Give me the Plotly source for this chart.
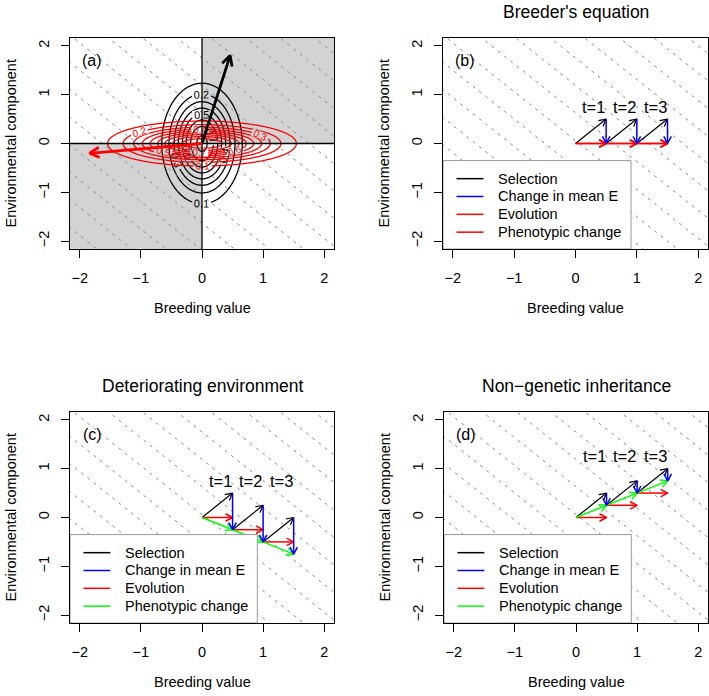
import numpy as np
import plotly.graph_objects as go

FONT = "Liberation Sans, Arial, sans-serif"
W, H = 709, 696

# ---------------- data ----------------
ticks = [-2, -1, 0, 1, 2]
axis_range = [-2.16, 2.16]
titles = ["", "Breeder's equation", "Deteriorating environment", "Non\u2212genetic inheritance"]
panel_tags = ["(a)", "(b)", "(c)", "(d)"]
time_labels = ["t=1", "t=2", "t=3"]
time_label_x = [0.3, 0.8, 1.3]
time_label_y = {"b": 0.75, "c": 0.75, "d": 1.25}

# isocline (dashed) lines: E = intercept + slope * A
iso_slope = -1.0
iso_intercepts = [-5.0, -4.44, -3.88, -3.31, -2.75, -2.19, -1.63, -1.06, -0.5, 0.06, 0.63,
                  1.19, 1.75, 2.31, 2.88, 3.44, 4.0, 4.56, 5.13]

# panel (a): distributions
sd_breeding, sd_env = 0.32, 0.60          # black density
black_levels = [0.1, 0.8, 0.1]
width_breeding, width_env = 0.72, 0.214    # red surface
red_levels = [0.1, 0.9, 0.1]
black_arrow = [0.46, 1.80]
red_arrow = [-1.84, -0.20]

# panels (b)-(d): trajectories of mean breeding value (A) and environmental component (E)
mean_A = [0.0, 0.5, 1.0, 1.5]
mean_E = {"b": [0.0, 0.0, 0.0, 0.0], "c": [0.0, -0.25, -0.5, -0.75], "d": [0.0, 0.25, 0.5, 0.75]}
selected_E = {"b": [0.5, 0.5, 0.5], "c": [0.5, 0.25, 0.0], "d": [0.5, 0.75, 1.0]}

legend_labels = ["Selection", "Change in mean E", "Evolution", "Phenotypic change"]
legend_colors = {"b": ["#000000", "#0000FF", "#FF0000", "#FF0000"],
                 "c": ["#000000", "#0000FF", "#FF0000", "#00FF00"],
                 "d": ["#000000", "#0000FF", "#FF0000", "#00FF00"]}

# ---------------- layout geometry (pixels) ----------------
px_x = {"a": (70, 334), "b": (443, 708), "c": (70, 334), "d": (444, 708)}
px_y = {"a": (38, 249), "b": (38, 249), "c": (412, 623), "d": (412, 623)}
axes_ids = {"a": ("x", "y"), "b": ("x2", "y2"), "c": ("x3", "y3"), "d": ("x4", "y4")}

fig = go.Figure()


def scale(p):
    x0, x1 = px_x[p]
    y0, y1 = px_y[p]
    return (x1 - x0) / (axis_range[1] - axis_range[0]), (y1 - y0) / (axis_range[1] - axis_range[0])


def arrow_path(x0, y0, x1, y1, p, head=8.0, ang=28):
    sx, sy = scale(p)
    dx, dy = (x1 - x0) * sx, (y1 - y0) * sy
    L = np.hypot(dx, dy)
    ux, uy = dx / L, dy / L
    xs, ys = [x0, x1, None], [y0, y1, None]
    a = np.deg2rad(ang)
    hx, hy = [], []
    for s in (1, -1):
        c, sn = np.cos(s * a), np.sin(s * a)
        rx = -(ux * c - uy * sn)
        ry = -(ux * sn + uy * c)
        hx.append(x1 + rx * head / sx)
        hy.append(y1 + ry * head / sy)
    xs += [hx[0], x1, hx[1], None]
    ys += [hy[0], y1, hy[1], None]
    return xs, ys


def add_arrows(segs, p, color, width=1.2, head=8.0):
    xa, ya = axes_ids[p]
    X, Y = [], []
    for (x0, y0, x1, y1) in segs:
        xs, ys = arrow_path(x0, y0, x1, y1, p, head)
        X += xs
        Y += ys
    fig.add_trace(go.Scatter(x=X, y=Y, mode="lines", line=dict(color=color, width=width),
                             xaxis=xa, yaxis=ya, hoverinfo="skip", showlegend=False))


# dashed isoclines in every panel
for p in "abcd":
    xa, ya = axes_ids[p]
    X, Y = [], []
    for c in iso_intercepts:
        X += [-3, 3, None]
        Y += [c + iso_slope * -3, c + iso_slope * 3, None]
    fig.add_trace(go.Scatter(x=X, y=Y, mode="lines",
                             line=dict(color="#8a8a8a", width=1, dash="3px,5px"),
                             xaxis=xa, yaxis=ya, hoverinfo="skip", showlegend=False))

# panel (a) contours
g = np.linspace(-2.16, 2.16, 301)
GX, GY = np.meshgrid(g, g)
z_black = np.exp(-(GX ** 2 / (2 * sd_breeding ** 2) + GY ** 2 / (2 * sd_env ** 2))) / (2 * np.pi * sd_breeding * sd_env)
z_red = np.exp(-(GX ** 2 / (2 * width_breeding ** 2) + GY ** 2 / (2 * width_env ** 2)))
fig.add_trace(go.Contour(x=g, y=g, z=z_black, xaxis="x", yaxis="y", showscale=False,
                         colorscale=[[0, "black"], [1, "black"]],
                         contours=dict(coloring="lines", start=black_levels[0], end=black_levels[1],
                                       size=black_levels[2], showlabels=True,
                                       labelfont=dict(family=FONT, size=11, color="black")),
                         line=dict(width=1.3), hoverinfo="skip"))
fig.add_trace(go.Contour(x=g, y=g, z=z_red, xaxis="x", yaxis="y", showscale=False,
                         colorscale=[[0, "red"], [1, "red"]],
                         contours=dict(coloring="lines", start=red_levels[0], end=red_levels[1],
                                       size=red_levels[2], showlabels=True,
                                       labelfont=dict(family=FONT, size=10, color="red")),
                         line=dict(width=1.3), hoverinfo="skip"))
# axis lines through origin in panel (a)
fig.add_trace(go.Scatter(x=[-3, 3, None, 0, 0], y=[0, 0, None, -3, 3], mode="lines",
                         line=dict(color="black", width=1.3), xaxis="x", yaxis="y",
                         hoverinfo="skip", showlegend=False))
add_arrows([(0, 0, black_arrow[0], black_arrow[1])], "a", "#000000", width=2.8, head=11)
add_arrows([(0, 0, red_arrow[0], red_arrow[1])], "a", "#FF0000", width=2.8, head=11)

# panels (b)-(d)
for p in "bcd":
    A, E, S = mean_A, mean_E[p], selected_E[p]
    cols = legend_colors[p]
    sel = [(A[t], E[t], A[t + 1], S[t]) for t in range(3)]
    dE = [(A[t + 1], S[t], A[t + 1], E[t + 1]) for t in range(3)]
    evo = [(A[t], E[t], A[t + 1], E[t]) for t in range(3)]
    phen = [(A[t], E[t], A[t + 1], E[t + 1]) for t in range(3)]
    add_arrows(sel, p, cols[0])
    add_arrows(evo, p, cols[2], width=1.5)
    add_arrows(phen, p, cols[3], width=1.5)
    add_arrows(dE, p, cols[1], width=1.5)

# ---------------- axes ----------------
layout = dict(width=W, height=H, margin=dict(l=0, r=0, t=0, b=0),
              paper_bgcolor="white", plot_bgcolor="white", showlegend=False,
              font=dict(family=FONT, size=14, color="black"))
for i, p in enumerate("abcd"):
    xa, ya = axes_ids[p]
    xk = "xaxis" + xa[1:]
    yk = "yaxis" + ya[1:]
    x0, x1 = px_x[p]
    y0, y1 = px_y[p]
    common = dict(range=axis_range, tickvals=ticks, ticks="outside", ticklen=8, tickwidth=1,
                  tickcolor="black", showline=True, mirror=True, linecolor="black", linewidth=1,
                  showgrid=False, zeroline=False, tickfont=dict(family=FONT, size=14.5),
                  fixedrange=True)
    layout[xk] = dict(common, domain=[x0 / W, x1 / W], anchor=ya, ticklabelstandoff=8)
    layout[yk] = dict(common, domain=[1 - y1 / H, 1 - y0 / H], anchor=xa, tickangle=-90,
                      ticklabelstandoff=6)
fig.update_layout(**layout)

# ---------------- shapes & annotations ----------------
shapes = []
annotations = []
# grey quadrants in panel (a)
for (qx0, qx1, qy0, qy1) in [(0, 2.16, 0, 2.16), (-2.16, 0, -2.16, 0)]:
    shapes.append(dict(type="rect", xref="x", yref="y", x0=qx0, x1=qx1, y0=qy0, y1=qy1,
                       fillcolor="#D3D3D3", line=dict(width=0), layer="below"))

for i, p in enumerate("abcd"):
    xa, ya = axes_ids[p]
    x0, x1 = px_x[p]
    y0, y1 = px_y[p]
    cx = (x0 + x1) / 2 / W
    # panel tag
    annotations.append(dict(text=panel_tags[i], x=-1.8, y=1.7, xref=xa, yref=ya, showarrow=False,
                            xanchor="center", yanchor="middle", font=dict(size=16)))
    # x title
    annotations.append(dict(text="Breeding value", x=cx, y=1 - (y1 + 59) / H, xref="paper", yref="paper",
                            showarrow=False, font=dict(size=14.5), xanchor="center", yanchor="middle"))
    # y title
    annotations.append(dict(text="Environmental component", x=(x0 - 60) / W, y=1 - (y0 + y1) / 2 / H,
                            xref="paper", yref="paper", showarrow=False, textangle=-90,
                            font=dict(size=14.5), xanchor="center", yanchor="middle"))
    if titles[i]:
        annotations.append(dict(text=titles[i], x=cx, y=1 - (y0 - 26) / H, xref="paper", yref="paper",
                                showarrow=False, font=dict(size=17.5), xanchor="center", yanchor="middle"))
    if p in "bcd":
        for tx, tl in zip(time_label_x, time_labels):
            annotations.append(dict(text=tl, x=tx, y=time_label_y[p], xref=xa, yref=ya, showarrow=False,
                                    xanchor="center", yanchor="middle", font=dict(size=16.5)))
        # legend box
        shapes.append(dict(type="rect", xref=xa, yref=ya, x0=-2.16, x1=0.905, y0=-2.16, y1=-0.35,
                           fillcolor="white", line=dict(color="#9a9a9a", width=1), layer="above"))
        for k, (lab, col) in enumerate(zip(legend_labels, legend_colors[p])):
            ly = -0.72 - k * 0.365
            shapes.append(dict(type="line", xref=xa, yref=ya, x0=-1.94, x1=-1.50, y0=ly, y1=ly,
                               line=dict(color=col, width=1.5), layer="above"))
            annotations.append(dict(text=lab, x=-1.29, y=ly, xref=xa, yref=ya, showarrow=False,
                                    xanchor="left", yanchor="middle", font=dict(size=14.5)))

fig.update_layout(shapes=shapes, annotations=annotations)
fig.write_html("out.html", config={"displayModeBar": False, "staticPlot": True},
               post_script="document.body.style.margin='0px';")
